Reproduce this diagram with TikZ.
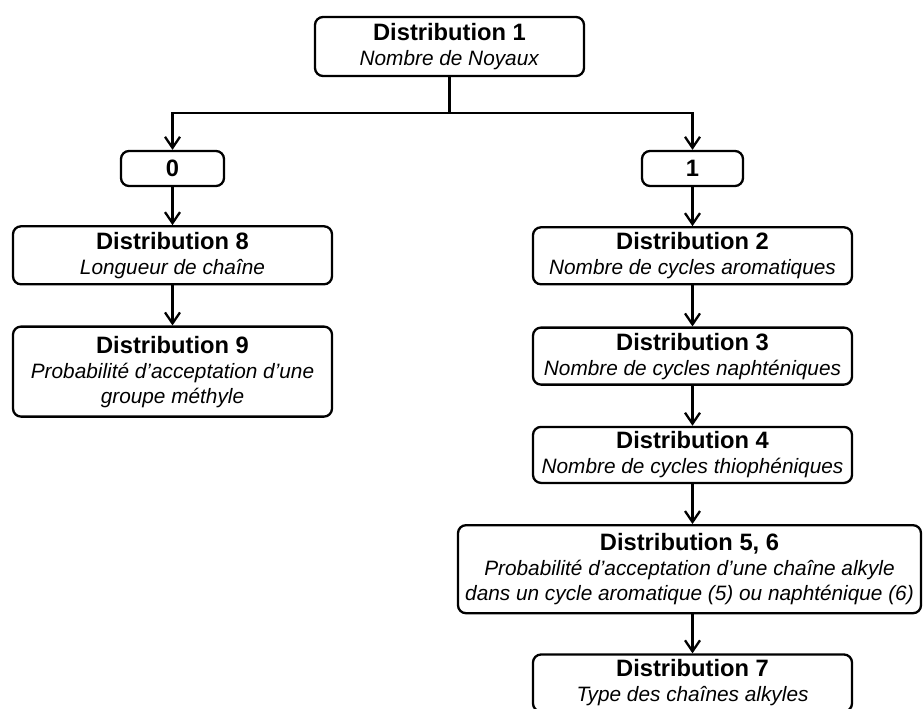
\documentclass[tikz,border=0pt]{standalone}
\usepackage{fontspec}
\setmainfont{Liberation Sans}
\usepackage{tikz}
\usetikzlibrary{
	arrows.meta,
	positioning
}

\newcommand{\distnum}[1]{{\fontsize{23.7pt}{27pt}\selectfont\textbf{#1}}}

\begin{document}
\begin{tikzpicture}[
		x=1pt, y=1pt,
		dist/.style={draw, rounded corners=8pt, line width=2.3pt, minimum width=319pt, minimum height=57pt, align=center, inner sep=2pt, font=\fontsize{20.8pt}{25pt}\selectfont},
		valeur/.style={draw, rounded corners=8pt, line width=2.3pt, minimum width=102pt, minimum height=35pt, inner sep=2pt},
		arrow/.style={-{Straight Barb[length=11pt,width=15pt,line width=2.3pt]}, line width=2.3pt}
		]
		\useasboundingbox (0,0) rectangle (924,-709);
		
		% =========================
		% Distribution 1 and the two branches
		% =========================
		\node[dist, minimum width=269pt, minimum height=59pt] (d1) at (449.5,-46.5) {
			\distnum{Distribution 1}\\
			\textit{Nombre de Noyaux}
		};
		\node[valeur, minimum width=103pt] (zero) at (172.5,-168.5) {\distnum{0}};
		\node[valeur, minimum width=101pt] (one) at (692.5,-168.5) {\distnum{1}};
		
		% =========================
		% Branch 0
		% =========================
		\node[dist, minimum height=58pt, below=38pt of zero] (d8) {
			\distnum{Distribution 8}\\
			\textit{Longueur de chaîne}
		};
		\node[dist, minimum height=90pt, below=40pt of d8] (d9) {
			\distnum{Distribution 9}\\
			\textit{Probabilité d’acceptation d’une}\\
			\textit{groupe méthyle}
		};
		
		% =========================
		% Branch 1
		% =========================
		\node[dist, below=39pt of one] (d2) {
			\distnum{Distribution 2}\\
			\textit{Nombre de cycles aromatiques}
		};
		\node[dist, below=41pt of d2] (d3) {
			\distnum{Distribution 3}\\
			\textit{Nombre de cycles naphténiques}
		};
		\node[dist, minimum height=56pt, below=40pt of d3] (d4) {
			\distnum{Distribution 4}\\
			\textit{Nombre de cycles thiophéniques}
		};
		\node[dist, minimum width=463pt, minimum height=88pt, below=40pt of d4, xshift=-3pt] (d56) {
			\distnum{Distribution 5, 6}\\
			\textit{Probabilité d’acceptation d’une chaîne alkyle}\\
			\textit{dans un cycle aromatique (5) ou naphténique (6)}
		};
		\node[dist, below=39pt of d56, xshift=3pt] (d7) {
			\distnum{Distribution 7}\\
			\textit{Type des chaînes alkyles}
		};
		
		% =========================
		% Arrows
		% =========================
		\coordinate (split) at ([yshift=-36pt]d1.south);
		\draw[line width=2.3pt] (d1.south) -- (split);
		\draw[arrow] (split) -| (zero.north);
		\draw[arrow] (split) -| (one.north);
		
		\draw[arrow] (zero) -- (d8);
		\draw[arrow] (d8) -- (d9);
		
		\draw[arrow] (one) -- (d2);
		\draw[arrow] (d2) -- (d3);
		\draw[arrow] (d3) -- (d4);
		\draw[arrow] (d4.south) -- (d4.south |- d56.north);
		\draw[arrow] (d4.south |- d56.south) -- (d7.north);
		
	\end{tikzpicture}
\end{document}
